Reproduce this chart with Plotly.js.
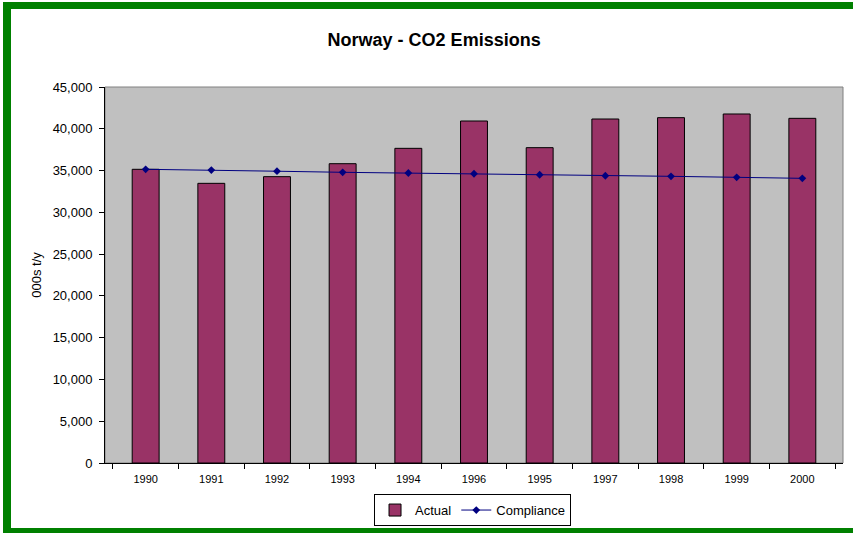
<!DOCTYPE html>
<html>
<head>
<meta charset="utf-8">
<script src="https://cdn.plot.ly/plotly-3.0.1.min.js"></script>
<style>
  html, body { margin: 0; padding: 0; background: #ffffff; }
  #wrap { position: relative; width: 853px; height: 533px; overflow: hidden; }
  #chart { position: absolute; left: 0; top: 0; width: 853px; height: 533px; }
  .gb { position: absolute; background: #008000; z-index: 5; }
</style>
</head>
<body>
<div id="wrap">
  <div id="chart"></div>
  <div class="gb" style="left:3px; top:2px; width:850px; height:7px;"></div>
  <div class="gb" style="left:3px; top:2px; width:8px; height:531px;"></div>
  <div class="gb" style="left:3px; top:528px; width:850px; height:5px;"></div>
</div>
<script>
const years = ["1990", "1991", "1992", "1993", "1994", "1996", "1995", "1997", "1998", "1999", "2000"];
const actual = [35150, 33470, 34270, 35820, 37660, 40930, 37740, 41170, 41330, 41770, 41250];
const compliance = [35150, 35060, 34920, 34790, 34710, 34620, 34500, 34380, 34310, 34190, 34070];
const yTicks = [0, 5000, 10000, 15000, 20000, 25000, 30000, 35000, 40000, 45000];

const font = "Liberation Sans, Arial, sans-serif";

const traces = [
  {
    type: "bar",
    name: "Actual",
    x: years,
    y: actual,
    width: 0.41,
    marker: { color: "#993366", line: { color: "#000000", width: 1 } },
    hoverinfo: "x+y"
  },
  {
    type: "scatter",
    mode: "lines+markers",
    name: "Compliance",
    x: years,
    y: compliance,
    line: { color: "#000080", width: 1 },
    marker: { symbol: "diamond", size: 6, color: "#000080" }
  }
];

const layout = {
  width: 853,
  height: 533,
  margin: { l: 105, r: 10, t: 87, b: 70, autoexpand: false },
  paper_bgcolor: "#ffffff",
  plot_bgcolor: "#c0c0c0",
  font: { family: font, size: 12, color: "#000000" },
  title: {
    text: "<b>Norway - CO2 Emissions</b>",
    font: { family: font, size: 18, color: "#000000" },
    x: 0.446, xref: "paper", xanchor: "center",
    y: 0.925, yref: "container", yanchor: "middle"
  },
  xaxis: {
    type: "category",
    categoryorder: "array",
    categoryarray: years,
    showline: true, linecolor: "#000000", linewidth: 1,
    ticks: "outside", ticklen: 5, tickcolor: "#000000", tickson: "boundaries",
    ticklabelstandoff: 6,
    showgrid: false, zeroline: false,
    tickfont: { family: font, size: 11, color: "#000000" },
    automargin: false,
    fixedrange: true
  },
  yaxis: {
    range: [0, 45000],
    tickvals: yTicks,
    tickformat: ",d",
    showline: true, linecolor: "#000000", linewidth: 1,
    ticks: "outside", ticklen: 5, tickcolor: "#000000",
    ticklabelstandoff: 4,
    showgrid: false, zeroline: false,
    tickfont: { family: font, size: 13, color: "#000000" },
    title: { text: "000s t/y", font: { family: font, size: 13, color: "#000000" }, standoff: 8 },
    automargin: false,
    fixedrange: true
  },
  shapes: [
    { type: "rect", xref: "paper", yref: "paper", x0: 0, x1: 1, y0: 0, y1: 1,
      line: { color: "#808080", width: 1 }, layer: "below" }
  ],
  showlegend: true,
  legend: {
    orientation: "h",
    x: 0.498, xanchor: "center", xref: "paper",
    y: 0.073, yanchor: "top", yref: "container",
    bordercolor: "#000000", borderwidth: 1,
    bgcolor: "#ffffff",
    font: { family: font, size: 13, color: "#000000" },
    itemwidth: 30,
    tracegroupgap: 0
  },
  bargap: 0.59
};

Plotly.newPlot("chart", traces, layout, { displayModeBar: false, staticPlot: true });
</script>
</body>
</html>
